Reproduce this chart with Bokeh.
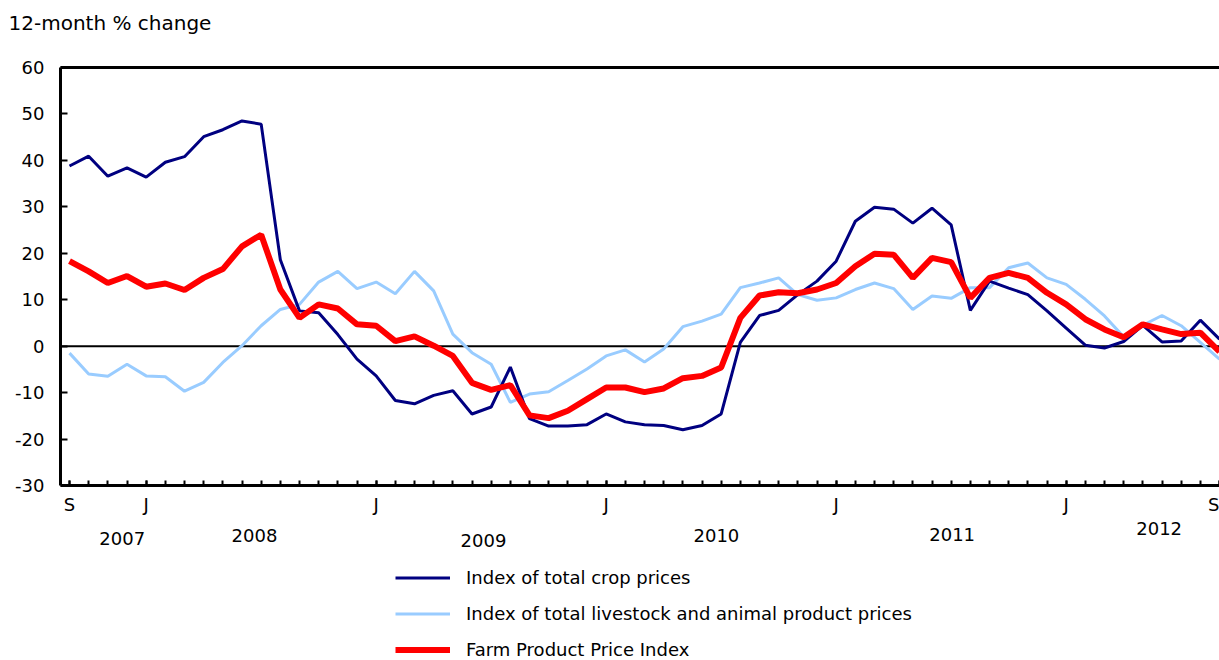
from bokeh.plotting import figure
from bokeh.layouts import column
from bokeh.models import (FixedTicker, Span, Label, Legend, LegendItem, Range1d,
                          LinearAxis)
from bokeh.embed import file_html
from bokeh.resources import INLINE

# ---------------- data ----------------
# months from Sep 2007 (index 0) to Sep 2012 (index 60)
months = list(range(61))
crop = [38.8, 40.9, 36.6, 38.4, 36.4, 39.6, 40.8, 45.1, 46.6, 48.5, 47.8,
        18.6, 7.6, 7.2, 2.5, -2.8, -6.4, -11.7, -12.4, -10.6,
        -9.6, -14.6, -13.1, -4.5, -15.6, -17.2, -17.2, -16.9, -14.6, -16.3,
        -16.9, -17.1, -18.0, -17.1, -14.6, 0.8, 6.6, 7.7, 11.1, 14.0,
        18.3, 26.9, 29.9, 29.5, 26.5, 29.7, 26.1, 7.7, 14.0, 12.5,
        11.1, 7.6, 3.9, 0.2, -0.4, 1.0, 4.5, 0.9, 1.1, 5.6, 1.5]
livestock = [-1.5, -6.0, -6.5, -3.9, -6.4, -6.6, -9.7, -7.8, -3.5, 0.1,
             4.4, 7.9, 9.0, 13.8, 16.1, 12.4, 13.8, 11.3, 16.1, 11.9,
             2.6, -1.4, -3.9, -12.1, -10.3, -9.8, -7.4, -4.9, -2.1, -0.8,
             -3.4, -0.6, 4.2, 5.4, 6.9, 12.6, 13.6, 14.7, 11.1, 9.9,
             10.4, 12.2, 13.6, 12.4, 7.9, 10.8, 10.3, 12.6, 12.6, 16.9,
             17.9, 14.7, 13.3, 10.1, 6.5, 2.0, 4.5, 6.6, 4.4, 0.8, -2.8]
fppi = [18.3, 16.1, 13.6, 15.1, 12.8, 13.5, 12.1, 14.7, 16.6, 21.5, 24.0,
        12.2, 6.1, 9.0, 8.1, 4.7, 4.4, 1.1, 2.1, 0.1,
        -2.1, -7.9, -9.4, -8.4, -14.9, -15.5, -13.9, -11.4, -8.9, -8.9,
        -9.9, -9.1, -6.9, -6.4, -4.6, 6.1, 10.9, 11.6, 11.4, 12.2,
        13.6, 17.2, 19.9, 19.7, 14.7, 19.0, 18.1, 10.4, 14.7, 15.8,
        14.7, 11.5, 9.0, 5.8, 3.6, 1.9, 4.7, 3.6, 2.6, 2.9, -1.2]

series_names = ["Index of total crop prices",
                "Index of total livestock and animal product prices",
                "Farm Product Price Index"]

x_tick_pos = [0, 4, 16, 28, 40, 52, 60]
x_tick_labels = ["S", "J", "J", "J", "J", "J", "S"]
y_ticks = [-30, -20, -10, 0, 10, 20, 30, 40, 50, 60]
years = ["2007", "2008", "2009", "2010", "2011", "2012"]
y_title = "12-month % change"

# ---------------- layout / style ----------------
FONT = "DejaVu Sans"
FS = "18px"
W = 1219
LEFT = 60
TITLE_H = 57
TOP_BORDER, FRAME_H, AXIS_H = 10, 420, 30
YEAR_H = 50
LEG_H = 660 - TITLE_H - (TOP_BORDER + FRAME_H + AXIS_H) - YEAR_H
year_x = [2.75, 9.65, 21.6, 33.75, 46.05, 56.85]      # month position of year label
year_y = [21, 18, 23, 18, 17, 11]                      # px below top of year strip
C_CROP, C_LIVE, C_FPPI = "#000080", "#99ccff", "#ff0000"
LW_CROP, LW_LIVE, LW_FPPI = 3, 3, 6

shared_x = Range1d(-0.47, 60.0)

# ---- title strip ----
pt = figure(width=W, height=TITLE_H, toolbar_location=None, output_backend="svg",
            x_range=shared_x, y_range=Range1d(0, 1),
            x_axis_type=None, y_axis_type=None,
            min_border_left=LEFT, min_border_right=0, min_border_top=0, min_border_bottom=0)
pt.outline_line_color = None
pt.title.text = y_title
pt.title.align = "left"
pt.title.vertical_align = "bottom"
pt.title.offset = 8 - LEFT
pt.title.standoff = 17
pt.title.text_font = FONT
pt.title.text_font_size = "20px"
pt.title.text_font_style = "normal"
pt.title.text_color = "black"

# ---- main chart ----
p = figure(width=W, height=TOP_BORDER + FRAME_H + AXIS_H, toolbar_location=None,
           output_backend="svg", x_range=shared_x, y_range=Range1d(-30, 60),
           min_border_left=LEFT, min_border_right=0,
           min_border_top=TOP_BORDER, min_border_bottom=AXIS_H)
p.outline_line_color = None
p.xgrid.visible = False
p.ygrid.visible = False

p.add_layout(Span(location=0, dimension="width", line_color="black",
                  line_width=2, level="underlay"))

r_live = p.line(months, livestock, line_color=C_LIVE, line_width=LW_LIVE)
r_crop = p.line(months, crop, line_color=C_CROP, line_width=LW_CROP)
r_fppi = p.line(months, fppi, line_color=C_FPPI, line_width=LW_FPPI)

xa = p.xaxis[0]
xa.ticker = FixedTicker(ticks=x_tick_pos, minor_ticks=months)
xa.major_label_overrides = {t: s for t, s in zip(x_tick_pos, x_tick_labels)}
xa.axis_line_width = 3
xa.axis_line_color = "black"
xa.major_tick_in = 5
xa.major_tick_out = 0
xa.minor_tick_in = 5
xa.minor_tick_out = 0
xa.major_tick_line_width = 2
xa.minor_tick_line_width = 2
xa.major_tick_line_color = "black"
xa.minor_tick_line_color = "black"
xa.major_label_text_font = FONT
xa.major_label_text_font_size = FS
xa.major_label_text_color = "black"
xa.major_label_standoff = 8

ya = p.yaxis[0]
ya.ticker = FixedTicker(ticks=y_ticks)
ya.major_label_overrides = {t: str(t) for t in y_ticks}
ya.axis_line_width = 3
ya.axis_line_color = "black"
ya.major_tick_in = 7
ya.major_tick_out = 0
ya.major_tick_line_width = 2
ya.major_tick_line_color = "black"
ya.minor_tick_line_color = None
ya.major_label_text_font = FONT
ya.major_label_text_font_size = FS
ya.major_label_text_color = "black"
ya.major_label_standoff = 16

top_axis = LinearAxis(ticker=FixedTicker(ticks=[]), axis_line_width=3,
                      axis_line_color="black", major_tick_in=0, major_tick_out=0,
                      minor_tick_in=0, minor_tick_out=0, major_label_standoff=0)
p.add_layout(top_axis, "above")

# ---- year strip ----
py = figure(width=W, height=YEAR_H, toolbar_location=None, output_backend="svg",
            x_range=shared_x, y_range=Range1d(YEAR_H, 0),
            x_axis_type=None, y_axis_type=None,
            min_border_left=LEFT, min_border_right=0, min_border_top=0, min_border_bottom=0)
py.outline_line_color = None
for yr, xx, yy in zip(years, year_x, year_y):
    py.add_layout(Label(x=xx, y=yy, text=yr, text_align="center",
                        text_baseline="middle", text_font=FONT,
                        text_font_size=FS, text_color="black"))

# ---- legend strip ----
pl = figure(width=W, height=LEG_H, toolbar_location=None, output_backend="svg",
            x_range=shared_x, y_range=Range1d(-30, 60),
            x_axis_type=None, y_axis_type=None,
            min_border_left=LEFT, min_border_right=0, min_border_top=0, min_border_bottom=0)
pl.outline_line_color = None
l_crop = pl.line(months, crop, line_color=C_CROP, line_width=LW_CROP, visible=False)
l_live = pl.line(months, livestock, line_color=C_LIVE, line_width=LW_LIVE, visible=False)
l_fppi = pl.line(months, fppi, line_color=C_FPPI, line_width=LW_FPPI, visible=False)
ITEM_H, ITEM_GAP = 21, 15
leg_h = 3 * ITEM_H + 2 * ITEM_GAP
legend = Legend(items=[LegendItem(label=series_names[0], renderers=[l_crop]),
                       LegendItem(label=series_names[1], renderers=[l_live]),
                       LegendItem(label=series_names[2], renderers=[l_fppi])],
                location=(395 - LEFT, 0), orientation="vertical",
                glyph_width=55, glyph_height=ITEM_H, label_height=ITEM_H,
                spacing=ITEM_GAP, padding=0, margin=0, label_standoff=16,
                border_line_color=None, background_fill_alpha=0,
                inactive_fill_alpha=0,
                label_text_font=FONT, label_text_font_size=FS,
                label_text_color="black")
pl.add_layout(legend)

page = column(pt, p, py, pl, spacing=0)
open("out.html", "w").write(file_html(page, INLINE))
